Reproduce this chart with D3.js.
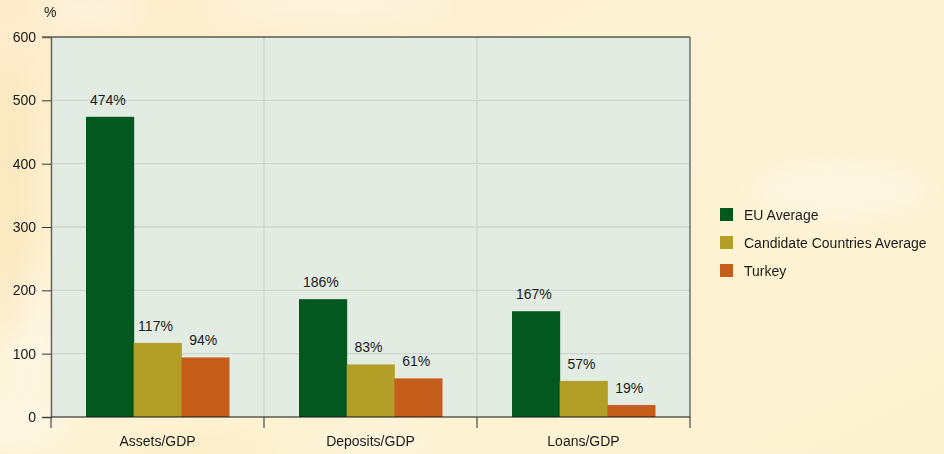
<!DOCTYPE html>
<html>
<head>
<meta charset="utf-8">
<script src="https://cdn.jsdelivr.net/npm/d3@7"></script>
<style>
  html, body { margin: 0; padding: 0; background: #fdf3d2; }
  svg { display: block; font-family: "Liberation Sans", Arial, sans-serif; }
</style>
</head>
<body>
<script>
// Banking depth indicators, % of GDP
const categories = ["Assets/GDP", "Deposits/GDP", "Loans/GDP"];
const seriesNames = ["EU Average", "Candidate Countries Average", "Turkey"];
const euAverage = [474, 186, 167];
const candidateAverage = [117, 83, 57];
const turkey = [94, 61, 19];
const yTicks = [0, 100, 200, 300, 400, 500, 600];
const seriesColors = ["#02581e", "#b29f27", "#c55e1a"];

const seriesValues = [euAverage, candidateAverage, turkey];

const W = 944, H = 454;
const margin = { left: 51, right: 254, top: 37, bottom: 37 };
const plotW = W - margin.left - margin.right;
const plotH = H - margin.top - margin.bottom;

const svg = d3.select("body").append("svg").attr("width", W).attr("height", H);

// Warm paper background with soft highlights
const defs = svg.append("defs");
const bg = defs.append("linearGradient").attr("id", "bg").attr("x1", 0).attr("y1", 0).attr("x2", 1).attr("y2", 1);
bg.append("stop").attr("offset", 0).attr("stop-color", "#fdeccb");
bg.append("stop").attr("offset", 0.4).attr("stop-color", "#fdf3d4");
bg.append("stop").attr("offset", 1).attr("stop-color", "#fdf2d0");
const blur = defs.append("filter").attr("id", "soft").attr("x", "-50%").attr("y", "-50%").attr("width", "200%").attr("height", "200%");
blur.append("feGaussianBlur").attr("stdDeviation", 14);

svg.append("rect").attr("width", W).attr("height", H).attr("fill", "url(#bg)");
const glow = svg.append("g").attr("filter", "url(#soft)");
[[330, 6, 120, 14], [30, 330, 30, 60], [20, 420, 50, 30], [380, 444, 60, 12], [840, 190, 90, 30], [90, 10, 50, 16]]
  .forEach(([cx, cy, rx, ry]) => {
    glow.append("ellipse").attr("cx", cx).attr("cy", cy).attr("rx", rx).attr("ry", ry)
      .attr("fill", "#fffaf0").attr("opacity", 0.55);
  });
[[10, 200, 22, 140], [200, 450, 70, 10]].forEach(([cx, cy, rx, ry]) => {
  glow.append("ellipse").attr("cx", cx).attr("cy", cy).attr("rx", rx).attr("ry", ry)
    .attr("fill", "#f8dfae").attr("opacity", 0.5);
});

const x0 = d3.scaleBand().domain(categories).range([0, plotW]).paddingInner(0).paddingOuter(0);
const x1 = d3.scaleBand().domain(seriesNames).range([35, x0.bandwidth() - 35]).padding(0);
const y = d3.scaleLinear().domain([0, 600]).range([plotH, 0]);

const g = svg.append("g").attr("transform", `translate(${margin.left},${margin.top})`);

// Plot panel
g.append("rect").attr("width", plotW).attr("height", plotH).attr("fill", "#e3ece3");

// Gridlines
g.append("g").selectAll("line").data(yTicks.slice(1, -1)).join("line")
  .attr("x1", 0).attr("x2", plotW).attr("y1", d => y(d)).attr("y2", d => y(d))
  .attr("stroke", "#cfd6cf").attr("stroke-width", 1.3);
g.append("g").selectAll("line").data(categories.slice(1)).join("line")
  .attr("x1", d => x0(d)).attr("x2", d => x0(d)).attr("y1", 0).attr("y2", plotH)
  .attr("stroke", "#cfd6cf").attr("stroke-width", 1.3);

// Bars
const groups = g.append("g").selectAll("g").data(categories).join("g")
  .attr("transform", d => `translate(${x0(d)},0)`);
groups.each(function (cat, ci) {
  const grp = d3.select(this);
  const rows = seriesNames.map((s, si) => ({ s, si, v: seriesValues[si][ci] }));
  grp.selectAll("rect").data(rows).join("rect")
    .attr("x", d => x1(d.s)).attr("width", x1.bandwidth() + 0.5)
    .attr("y", d => y(d.v)).attr("height", d => plotH - y(d.v))
    .attr("fill", d => seriesColors[d.si]);
  grp.selectAll("text").data(rows).join("text")
    .attr("x", d => x1(d.s) + x1.bandwidth() / 2 - 2)
    .attr("y", d => y(d.v) - 12)
    .attr("text-anchor", "middle")
    .attr("font-size", 14).attr("fill", "#1a1a1a")
    .text(d => d.v + "%");
});

// Frame: top black, right gray
g.append("line").attr("x1", -9).attr("x2", plotW).attr("y1", 0).attr("y2", 0)
  .attr("stroke", "#111").attr("stroke-width", 1.2);
g.append("line").attr("x1", plotW).attr("x2", plotW).attr("y1", 0).attr("y2", plotH)
  .attr("stroke", "#6a6f66").attr("stroke-width", 1.5);

// Y axis
const yAxis = g.append("g").call(d3.axisLeft(y).tickValues(yTicks).tickSize(9).tickPadding(6));
yAxis.select(".domain").attr("stroke", "#5f645c").attr("stroke-width", 1.5);
yAxis.selectAll(".tick line").attr("stroke", "#333");
yAxis.selectAll(".tick text").attr("font-size", 14).attr("fill", "#1a1a1a")
  .attr("font-family", "Liberation Sans, Arial, sans-serif");
yAxis.selectAll(".tick").filter(d => d === 600).select("line").attr("stroke", "none");

// X axis: category boundaries ticked, labels centred in bands
const xg = g.append("g").attr("transform", `translate(0,${plotH})`);
xg.append("line").attr("x1", 0).attr("x2", plotW).attr("stroke", "#111").attr("stroke-width", 1.2);
const bounds = [0, ...categories.map(c => x0(c) + x0.bandwidth())];
xg.selectAll(".bt").data(bounds).join("line").attr("class", "bt")
  .attr("x1", d => d).attr("x2", d => d).attr("y1", 0).attr("y2", 11)
  .attr("stroke", "#555").attr("stroke-width", 1.3);
xg.selectAll(".cl").data(categories).join("text").attr("class", "cl")
  .attr("x", d => x0(d) + x0.bandwidth() / 2).attr("y", 29)
  .attr("text-anchor", "middle").attr("font-size", 14).attr("fill", "#1a1a1a")
  .text(d => d);

// Unit label
svg.append("text").attr("x", 44).attr("y", 17).attr("font-size", 14).attr("fill", "#1a1a1a").text("%");

// Legend
const legend = svg.append("g").attr("transform", "translate(720,208)");
const li = legend.selectAll("g").data(seriesNames).join("g")
  .attr("transform", (d, i) => `translate(0,${i * 28})`);
li.append("rect").attr("width", 13).attr("height", 13).attr("fill", (d, i) => seriesColors[i]);
li.append("text").attr("x", 24).attr("y", 12).attr("font-size", 14).attr("fill", "#1a1a1a").text(d => d);
</script>
</body>
</html>
